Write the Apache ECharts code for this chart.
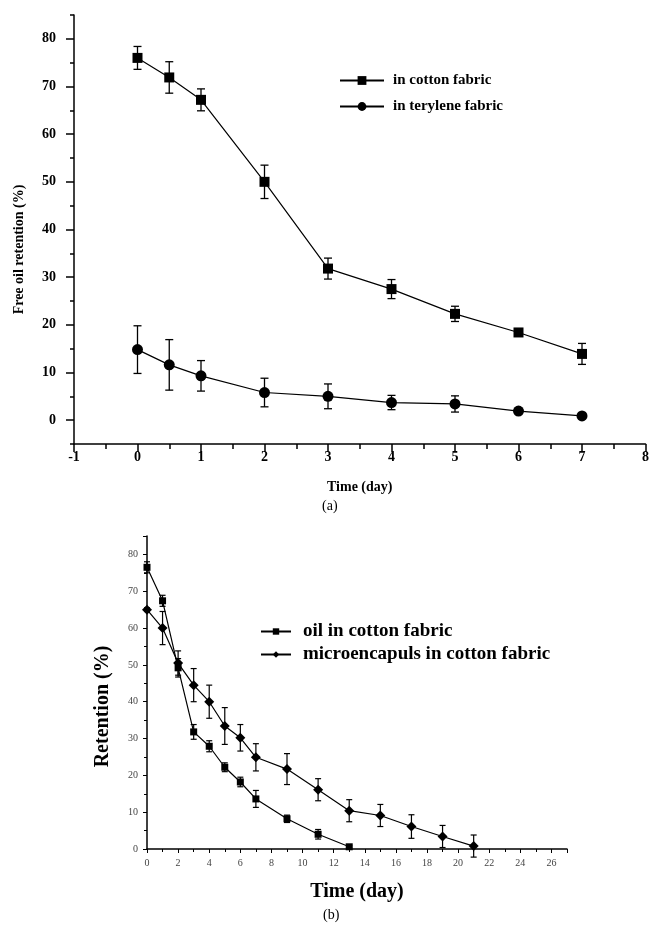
<!DOCTYPE html>
<html>
<head>
<meta charset="utf-8">
<script src="https://cdn.jsdelivr.net/npm/echarts@6/dist/echarts.min.js"></script>
<style>
  html, body { margin: 0; padding: 0; background: #fff; }
  #chart { width: 652px; height: 925px; }
</style>
</head>
<body>
<div id="chart"></div>
<script>
// (a) free oil retention, days 0..7
var daysA = [0, 0.5, 1, 2, 3, 4, 5, 6, 7];
var cottonA = [76.0, 71.9, 67.2, 50.0, 31.8, 27.5, 22.3, 18.4, 13.9];
var cottonAErr = [2.4, 3.3, 2.3, 3.5, 2.2, 2.0, 1.6, 0.8, 2.2];
var teryleneA = [14.8, 11.6, 9.3, 5.8, 5.0, 3.7, 3.4, 1.9, 0.9];
var teryleneAErr = [5.0, 5.3, 3.2, 3.0, 2.6, 1.5, 1.7, 0.5, 0.3];
var yTicksA = [0, 10, 20, 30, 40, 50, 60, 70, 80];

// (b) retention, oil vs microcapsules
var oilDays = [0, 1, 2, 3, 4, 5, 6, 7, 9, 11, 13];
var oilB = [76.5, 67.4, 49.2, 31.8, 27.9, 22.2, 18.2, 13.6, 8.2, 4.0, 0.6];
var oilBErr = [1.5, 1.5, 2.5, 2.0, 1.5, 1.2, 1.3, 2.3, 1.0, 1.3, 0.3];
var capDays = [0, 1, 2, 3, 4, 5, 6, 7, 9, 11, 13, 15, 17, 19, 21];
var capB = [65.0, 60.0, 50.5, 44.5, 40.0, 33.4, 30.2, 24.9, 21.7, 16.1, 10.4, 9.1, 6.1, 3.4, 0.8];
var capBErr = [0.5, 4.5, 3.3, 4.5, 4.5, 5.0, 3.6, 3.7, 4.2, 3.0, 3.0, 3.0, 3.2, 3.0, 3.0];

var serif = '"Liberation Serif", "DejaVu Serif", serif';

function pts(xs, ys) {
    return xs.map(function (x, i) { return [x, ys[i]]; });
}
function bars(xs, ys, errs) {
    return xs.map(function (x, i) { return [x, ys[i] - errs[i], ys[i] + errs[i]]; });
}
// vertical error bar with caps, drawn through the axis scales
function errorRender(cap, width) {
    return function (params, api) {
        var x = api.value(0);
        var lo = api.coord([x, api.value(1)]);
        var hi = api.coord([x, api.value(2)]);
        var st = { stroke: '#000', lineWidth: width };
        return {
            type: 'group',
            children: [
                { type: 'line', shape: { x1: lo[0], y1: lo[1], x2: hi[0], y2: hi[1] }, style: st },
                { type: 'line', shape: { x1: lo[0] - cap, y1: lo[1], x2: lo[0] + cap, y2: lo[1] }, style: st },
                { type: 'line', shape: { x1: hi[0] - cap, y1: hi[1], x2: hi[0] + cap, y2: hi[1] }, style: st }
            ]
        };
    };
}

var chart = echarts.init(document.getElementById('chart'));
var black = { color: '#000', width: 1.2 };

var option = {
    backgroundColor: '#fff',
    animation: false,
    grid: [
        { left: 74, right: 4, top: 15, height: 429 },
        { left: 147, right: 85, top: 536, height: 313 }
    ],
    legend: [
        {
            data: ['in cotton fabric', 'in terylene fabric'],
            orient: 'vertical', left: 334, top: 68,
            itemWidth: 44, itemHeight: 11, itemGap: 11,
            textStyle: { fontFamily: serif, fontWeight: 'bold', fontSize: 15, color: '#000', padding: [0, 0, 0, 4] }
        },
        {
            data: ['oil in cotton fabric', 'microencapuls in cotton fabric'],
            orient: 'vertical', left: 255, top: 617,
            itemWidth: 30, itemHeight: 8, itemGap: 4,
            textStyle: { fontFamily: serif, fontWeight: 'bold', fontSize: 19, color: '#000', padding: [0, 0, 0, 7] }
        }
    ],
    xAxis: [
        {
            gridIndex: 0, type: 'value', min: -1, max: 8, interval: 1,
            name: 'Time (day)', nameLocation: 'middle', nameGap: 36,
            nameTextStyle: { fontFamily: serif, fontWeight: 'bold', fontSize: 14, color: '#000' },
            axisLine: { onZero: false, lineStyle: { color: '#000', width: 1.5 } },
            axisTick: { length: 8, lineStyle: { color: '#000', width: 1.5 } },
            minorTick: { show: true, splitNumber: 2, length: 5, lineStyle: { color: '#000', width: 1.5 } },
            axisLabel: { margin: 6, fontFamily: serif, fontWeight: 'bold', fontSize: 14, color: '#000' },
            splitLine: { show: false }
        },
        {
            gridIndex: 1, type: 'value', min: 0, max: 27, interval: 2,
            name: 'Time (day)', nameLocation: 'middle', nameGap: 33,
            nameTextStyle: { fontFamily: serif, fontWeight: 'bold', fontSize: 20, color: '#000' },
            axisLine: { onZero: false, lineStyle: { color: '#000', width: 1.5 } },
            axisTick: { length: 4, lineStyle: { color: '#000' } },
            minorTick: { show: true, splitNumber: 2, length: 3, lineStyle: { color: '#000' } },
            axisLabel: { margin: 9, showMaxLabel: false, fontFamily: serif, fontSize: 10, color: '#444' },
            splitLine: { show: false }
        }
    ],
    yAxis: [
        {
            gridIndex: 0, type: 'value', min: -5, max: 85, position: 'left',
            name: 'Free oil retention (%)', nameLocation: 'middle', nameGap: 48,
            nameTextStyle: { fontFamily: serif, fontWeight: 'bold', fontSize: 14, color: '#000', padding: [0, 40, 0, 0] },
            axisLine: { onZero: false, lineStyle: { color: '#000', width: 1.5 } },
            axisTick: { length: 8, customValues: yTicksA, lineStyle: { color: '#000', width: 1.5 } },
            axisLabel: { margin: 18, customValues: yTicksA, fontFamily: serif, fontWeight: 'bold', fontSize: 14, color: '#000' },
            splitLine: { show: false }
        },
        {
            // short ticks every 5 on the same scale
            gridIndex: 0, type: 'value', min: -5, max: 85, interval: 5, position: 'left',
            axisLine: { show: false, onZero: false },
            axisTick: { length: 4, lineStyle: { color: '#000', width: 1.5 } },
            axisLabel: { show: false },
            splitLine: { show: false }
        },
        {
            gridIndex: 1, type: 'value', min: 0, max: 85, interval: 10,
            name: 'Retention (%)', nameLocation: 'middle', nameGap: 34,
            nameTextStyle: { fontFamily: serif, fontWeight: 'bold', fontSize: 20, color: '#000', padding: [0, 28, 0, 0] },
            axisLine: { onZero: false, lineStyle: { color: '#000', width: 1.5 } },
            axisTick: { length: 4, lineStyle: { color: '#000' } },
            minorTick: { show: true, splitNumber: 2, length: 3, lineStyle: { color: '#000' } },
            axisLabel: { margin: 9, showMaxLabel: false, fontFamily: serif, fontSize: 10, color: '#444' },
            splitLine: { show: false }
        }
    ],
    graphic: [
        { type: 'text', left: 322, top: 499, style: { text: '(a)', font: '14px ' + serif, fill: '#000' } },
        { type: 'text', left: 323, top: 908, style: { text: '(b)', font: '14px ' + serif, fill: '#000' } }
    ],
    series: [
        {
            type: 'custom', xAxisIndex: 0, yAxisIndex: 0, silent: true,
            renderItem: errorRender(4, 1.3), encode: { x: 0, y: [1, 2] },
            data: bars(daysA, cottonA, cottonAErr)
        },
        {
            type: 'custom', xAxisIndex: 0, yAxisIndex: 0, silent: true,
            renderItem: errorRender(4, 1.3), encode: { x: 0, y: [1, 2] },
            data: bars(daysA, teryleneA, teryleneAErr)
        },
        {
            name: 'in cotton fabric', type: 'line', xAxisIndex: 0, yAxisIndex: 0,
            symbol: 'rect', symbolSize: 10, color: '#000', lineStyle: black,
            data: pts(daysA, cottonA)
        },
        {
            name: 'in terylene fabric', type: 'line', xAxisIndex: 0, yAxisIndex: 0,
            symbol: 'circle', symbolSize: 11, color: '#000', lineStyle: black,
            data: pts(daysA, teryleneA)
        },
        {
            type: 'custom', xAxisIndex: 1, yAxisIndex: 2, silent: true,
            renderItem: errorRender(3, 1.2), encode: { x: 0, y: [1, 2] },
            data: bars(oilDays, oilB, oilBErr)
        },
        {
            type: 'custom', xAxisIndex: 1, yAxisIndex: 2, silent: true,
            renderItem: errorRender(3, 1.2), encode: { x: 0, y: [1, 2] },
            data: bars(capDays, capB, capBErr)
        },
        {
            name: 'oil in cotton fabric', type: 'line', xAxisIndex: 1, yAxisIndex: 2,
            symbol: 'rect', symbolSize: 7, color: '#000', lineStyle: black,
            data: pts(oilDays, oilB)
        },
        {
            name: 'microencapuls in cotton fabric', type: 'line', xAxisIndex: 1, yAxisIndex: 2,
            symbol: 'diamond', symbolSize: 10, color: '#000', lineStyle: black,
            data: pts(capDays, capB)
        }
    ]
};
chart.setOption(option);
</script>
</body>
</html>
